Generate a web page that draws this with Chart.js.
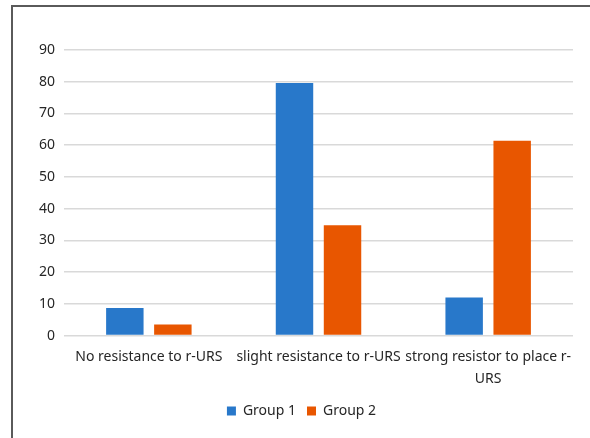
<!DOCTYPE html>
<html lang="en">
<head>
<meta charset="UTF-8">
<title>Resistance to r-URS</title>
<script src="https://cdn.jsdelivr.net/npm/chart.js"></script>
<style>
    html, body { margin: 0; padding: 0; background: #fff; }
    #wrap { position: relative; width: 590px; height: 438px; overflow: hidden; }
    #frame {
        position: absolute; left: 11px; top: 5px; width: 600px; height: 460px;
        border-top: 2px solid #5a5a5a; border-left: 2px solid #5a5a5a;
        box-sizing: border-box;
    }
    canvas { position: absolute; left: 0; top: 0; }
</style>
</head>
<body>
<div id="wrap">
    <div id="frame"></div>
    <canvas id="chart" width="590" height="438"></canvas>
</div>
<script>
    const categories = [
        "No resistance to r-URS",
        "slight resistance to r-URS",
        ["strong resistor to place r-", "URS"]
    ];
    const group1 = [8.7, 79.6, 12.0];
    const group2 = [3.5, 34.8, 61.4];
    const seriesNames = ["Group 1", "Group 2"];
    const yTicks = [0, 10, 20, 30, 40, 50, 60, 70, 80, 90];

    const font = { family: "'Noto Sans', Lato, sans-serif", size: 14 };

    new Chart(document.getElementById("chart"), {
        type: "bar",
        data: {
            labels: categories,
            datasets: [
                { label: seriesNames[0], data: group1, backgroundColor: "#2878ca" },
                { label: seriesNames[1], data: group2, backgroundColor: "#e85600" }
            ]
        },
        options: {
            responsive: false,
            animation: false,
            layout: { padding: { left: 30, right: 17, top: 50, bottom: 10 } },
            datasets: { bar: { categoryPercentage: 0.566, barPercentage: 0.78 } },
            scales: {
                x: {
                    grid: { display: false },
                    border: { display: false },
                    ticks: { color: "#262626", font: { ...font, lineHeight: 1.55 }, maxRotation: 0, autoSkip: false, padding: 3 }
                },
                y: {
                    min: 0, max: 90,
                    afterBuildTicks: axis => { axis.ticks = yTicks.map(v => ({ value: v })); },
                    grid: { color: "#d9d9d9", lineWidth: 1.5, drawTicks: false },
                    border: { display: false },
                    ticks: { color: "#262626", font: font, padding: 9 }
                }
            },
            plugins: {
                legend: {
                    position: "bottom",
                    labels: { boxWidth: 9, boxHeight: 9, color: "#262626", font: font, padding: 11 }
                },
                tooltip: { enabled: false }
            }
        }
    });
</script>
</body>
</html>
